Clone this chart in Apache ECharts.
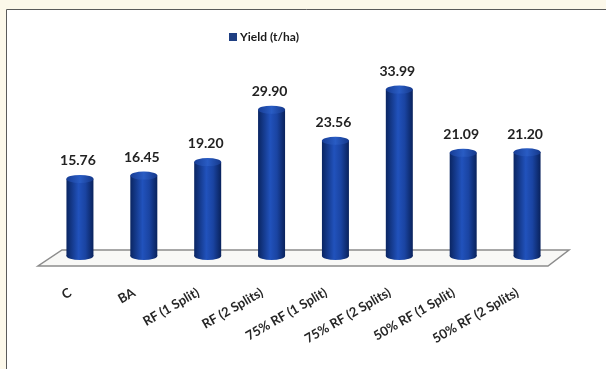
<!DOCTYPE html>
<html>
<head>
<meta charset="utf-8">
<script src="https://cdn.jsdelivr.net/npm/echarts@6/dist/echarts.min.js"></script>
<style>
  html, body { margin: 0; padding: 0; background: #fcf8ea; }
  #chart { width: 606px; height: 369px; }
</style>
</head>
<body>
<div id="chart"></div>
<script>
// Treatments and their grain yield (t/ha)
const categories = ['C', 'BA', 'RF (1 Split)', 'RF (2 Splits)', '75% RF (1 Split)', '75% RF (2 Splits)', '50% RF (1 Split)', '50% RF (2 Splits)'];
const yieldValues = [15.76, 16.45, 19.20, 29.90, 23.56, 33.99, 21.09, 21.20];
const seriesName = 'Yield (t/ha)';

const chart = echarts.init(document.getElementById('chart'));

const bodyGradient = new echarts.graphic.LinearGradient(0, 0, 1, 0, [
  { offset: 0, color: '#0a2562' },
  { offset: 0.45, color: '#2152bc' },
  { offset: 0.7, color: '#1a44a2' },
  { offset: 1, color: '#09225c' }
]);
const topGradient = new echarts.graphic.LinearGradient(0, 0, 1, 0, [
  { offset: 0, color: '#173d95' },
  { offset: 0.5, color: '#295cc4' },
  { offset: 1, color: '#15388a' }
]);

const barW = 27;

chart.setOption({
  backgroundColor: '#fcf8ea',
  animation: false,
  graphic: [{
    type: 'rect',
    z: -10,
    shape: { x: 6.5, y: 9.5, width: 620, height: 380 },
    style: { fill: '#ffffff', stroke: '#5a5a5a', lineWidth: 1 }
  }],
  legend: {
    data: [{ name: seriesName, itemStyle: { color: '#1f3f82' } }],
    left: 224,
    top: 26,
    itemWidth: 8,
    itemHeight: 8,
    itemGap: 4,
    icon: 'rect',
    textStyle: { fontFamily: 'Lato', fontWeight: 'bold', fontSize: 12, color: '#1a1a1a', padding: [0, 0, 0, -2] }
  },
  grid: { left: 48, right: 47, top: 60, bottom: 113, containLabel: false },
  xAxis: {
    type: 'category',
    data: categories,
    axisLine: { show: false },
    axisTick: { show: false },
    axisLabel: {
      rotate: 30,
      interval: 0,
      margin: 30,
      padding: [0, 11, 0, 0],
      fontFamily: 'Lato',
      fontWeight: 'bold',
      fontSize: 13,
      color: '#262626'
    }
  },
  yAxis: {
    type: 'value',
    min: 0,
    max: 40,
    show: false,
    splitLine: { show: false }
  },
  series: [
    {
      // floor of the plot
      type: 'custom',
      z: 1,
      silent: true,
      data: [0],
      renderItem: function (params, api) {
        const cs = params.coordSys;
        const y0 = api.coord([0, 0])[1];
        const back = y0 - 6, front = y0 + 10;
        const left = cs.x, right = cs.x + cs.width;
        return {
          type: 'polygon',
          shape: { points: [
            [left + 14, back], [right + 10, back],
            [right - 11, front], [left - 10, front]
          ] },
          style: { fill: '#f8f8f6', stroke: '#8c8c8c', lineWidth: 1.5 }
        };
      }
    },
    {
      name: seriesName,
      type: 'bar',
      z: 3,
      barWidth: barW,
      barGap: '-100%',
      data: yieldValues,
      itemStyle: { color: bodyGradient },
      label: {
        show: true,
        position: 'top',
        distance: 11,
        offset: [-2, 0],
        formatter: p => p.value.toFixed(2),
        fontFamily: 'Lato',
        fontWeight: 'bold',
        fontSize: 14,
        color: '#222222'
      }
    },
    {
      // cylinder base
      type: 'pictorialBar',
      z: 2,
      barWidth: barW,
      barGap: '-100%',
      symbol: 'circle',
      symbolSize: [barW, 8],
      symbolOffset: [0, '50%'],
      symbolPosition: 'start',
      data: yieldValues,
      itemStyle: { color: bodyGradient },
      silent: true
    },
    {
      // cylinder top
      type: 'pictorialBar',
      z: 4,
      barWidth: barW,
      barGap: '-100%',
      symbol: 'circle',
      symbolSize: [barW, 8],
      symbolOffset: [0, '-50%'],
      symbolPosition: 'end',
      data: yieldValues,
      itemStyle: { color: topGradient, borderColor: '#3d6fd0', borderWidth: 0.6 },
      silent: true
    }
  ]
});
</script>
</body>
</html>
